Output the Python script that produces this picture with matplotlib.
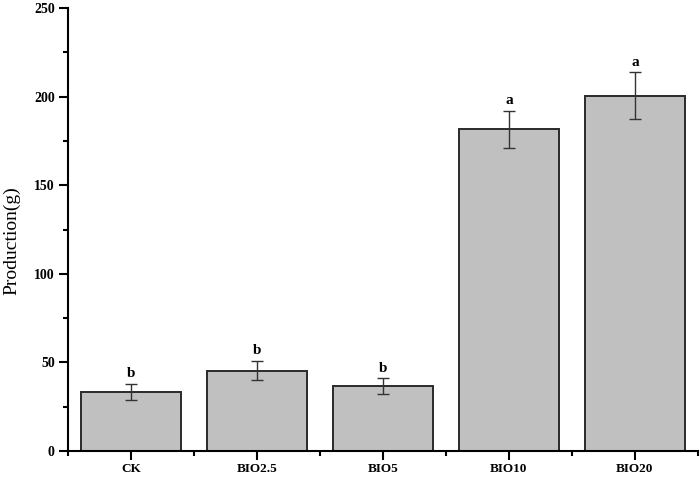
import matplotlib.pyplot as plt
from matplotlib.ticker import MultipleLocator, FixedLocator

categories = ["CK", "BIO2.5", "BIO5", "BIO10", "BIO20"]
production = [33.3, 45.3, 36.5, 181.7, 200.5]
errors = [4.7, 5.5, 4.5, 10.5, 13.3]
letters = ["b", "b", "b", "a", "a"]

plt.rcParams['font.family'] = ['Liberation Serif', 'DejaVu Serif']

fig = plt.figure(figsize=(7, 4.78), dpi=100)
ax = fig.add_axes([0.097, 0.0565, 0.9, 0.9265])

x = list(range(len(categories)))
ax.bar(x, production, width=0.8, color='#c0c0c0', edgecolor='#2a2a2a', linewidth=1.4)
ax.errorbar(x, production, yerr=errors, fmt='none', ecolor='#333333',
            elinewidth=1.0, capsize=4.5, capthick=1.0)

for xi, v, e, lab in zip(x, production, errors, letters):
    ax.text(xi, v + e + 2, lab, ha='center', va='bottom', fontsize=11, fontweight='bold')

ax.set_xlim(-0.5, 4.5)
ax.set_ylim(0, 250)
ax.set_xticks(x)
ax.set_xticklabels(categories, fontweight='bold', fontsize=9.5)
ax.xaxis.set_minor_locator(FixedLocator([i + 0.5 for i in range(-1, 5)]))
ax.yaxis.set_major_locator(MultipleLocator(50))
ax.yaxis.set_minor_locator(MultipleLocator(25))
for lab in ax.get_yticklabels():
    lab.set_fontweight('bold')
    lab.set_fontsize(10)

ax.tick_params(which='major', direction='out', length=6.5, width=1.5)
ax.tick_params(which='minor', direction='out', length=3.5, width=1.5)
ax.tick_params(axis='x', which='major', pad=2)
ax.tick_params(axis='y', which='major', pad=3)
ax.spines['top'].set_visible(False)
ax.spines['right'].set_visible(False)
ax.spines['left'].set_linewidth(1.5)
ax.spines['bottom'].set_linewidth(1.5)

ax.set_ylabel("Production(g)", fontsize=14)
ax.yaxis.set_label_coords(-0.075, 0.475)

fig.savefig("out.png", dpi=100)
